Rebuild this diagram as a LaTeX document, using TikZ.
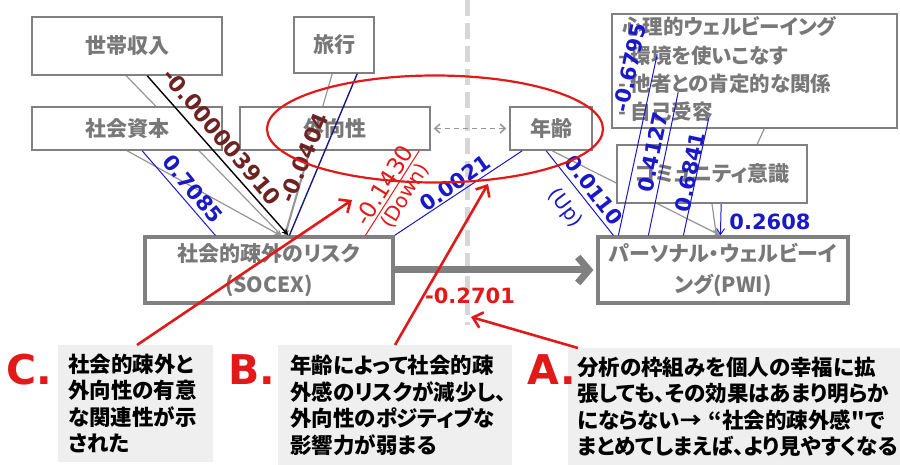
\documentclass[tikz,border=0pt]{standalone}
\usepackage{fontspec}
\usetikzlibrary{arrows.meta,backgrounds}
\newfontfamily\jp[RawFeature=+palt]{Noto Sans CJK JP}
\newfontfamily\numf{DejaVu Sans}
\definecolor{bx}{RGB}{128,128,128}
\definecolor{tg}{RGB}{120,120,120}
\definecolor{lg}{RGB}{150,150,150}
\definecolor{vg}{RGB}{215,215,215}
\definecolor{bl}{RGB}{25,25,200}
\definecolor{nv}{RGB}{25,25,130}
\definecolor{dr}{RGB}{110,35,35}
\definecolor{rd}{RGB}{225,25,25}
\definecolor{nb}{RGB}{239,239,239}
\tikzset{
  box/.style={draw=bx, line width=1.6pt, fill=white, inner sep=0pt, text=tg, align=center,
    font=\jp\bfseries\fontsize{21}{31}\selectfont},
  bigbox/.style={box, line width=3.2pt},
  gline/.style={draw=lg, line width=1.2pt, -{Stealth[length=6pt,width=5pt]}},
  glineplain/.style={draw=lg, line width=1.2pt},
  bline/.style={draw=bl, line width=1pt},
  nline/.style={draw=nv, line width=1.4pt},
  blkline/.style={draw=black, line width=1.4pt, -{Stealth[length=7pt,width=6pt]}},
  rline/.style={draw=rd, line width=1pt},
  vdash/.style={draw=vg, line width=5pt, dash pattern=on 16pt off 7pt},
  dashg/.style={draw=lg, line width=1.5pt, dash pattern=on 5pt off 4pt},
  fatarrow/.style={draw=bx, line width=7pt, -{Straight Barb[length=11pt,width=26pt]}},
  redarrow/.style={draw=rd, line width=2.6pt, -{Straight Barb[length=9pt,width=16pt]}},
  bnum/.style={font=\numf\bfseries\fontsize{21}{21}\selectfont, text=bl, inner sep=0pt},
  dnum/.style={font=\numf\bfseries\fontsize{22}{22}\selectfont, text=dr, inner sep=0pt},
  rnum/.style={font=\numf\fontsize{23}{23}\selectfont, text=rd, inner sep=0pt},
  note/.style={fill=nb, inner ysep=0pt, align=left, text=black, anchor=north west,
    font=\jp\bfseries\fontsize{21.5}{26.5}\selectfont},
  bigletter/.style={font=\numf\bfseries\fontsize{41}{41}\selectfont, text=rd, inner sep=0pt},
  ptext/.style={anchor=base west, inner sep=0pt, text=tg, font=\jp\bfseries\fontsize{20.5}{24}\selectfont}
}
\begin{document}
\begin{tikzpicture}[x=1pt,y=-1pt]
\useasboundingbox (0,0) rectangle (900,465);

% boxes
\node[box, minimum width=190pt, minimum height=58pt] (hh) at (127,46) {世帯収入};
\node[box, minimum width=80pt, minimum height=56pt] (tr) at (334,45) {旅行};
\node[box, minimum width=190pt, minimum height=43pt] (sc) at (127,128.5) {社会資本};
\node[box, minimum width=190pt, minimum height=43pt] (ex) at (335,128.5) {外向性};
\node[box, minimum width=82pt, minimum height=43pt] (age) at (551,128.5) {年齢};
\node[box, minimum width=285pt, minimum height=114pt] (psy) at (754.5,71) {};
\node[ptext] (p1) at (622,35) {心理的ウェルビーイング};
\node[ptext] (p2) at (618,64) {- 環境を使いこなす};
\node[ptext] (p3) at (618,92) {- 他者との肯定的な関係};
\node[ptext] (p4) at (618,120) {- 自己受容};
\node[box, minimum width=190pt, minimum height=58pt] (com) at (712,174) {コミュニティ意識};
\node[bigbox, minimum width=248pt, minimum height=66pt] (soc) at (269,270) {社会的疎外のリスク\\(SOCEX)};
\node[bigbox, minimum width=250pt, minimum height=66pt] (pwi) at (723,270) {パーソナル・ウェルビーイ\\ング(PWI)};

% background connectors
\begin{scope}[on background layer]
\fill[white] (0,0) rectangle (900,465);
\coordinate (vtop) at (467,0);
\coordinate (vbot) at (467,325);
\draw[vdash] (vtop) -- (vbot);
\draw[gline] ([xshift=95pt]hh.south west) -- ([xshift=138pt]soc.north west);
\draw[gline] ([xshift=96pt]sc.south west) -- ([xshift=137pt]soc.north west);
\draw[gline] ([xshift=39pt]tr.south west) -- ([xshift=142pt]soc.north west);
\draw[gline] ([xshift=70pt]ex.south west) -- ([xshift=141pt]soc.north west);
\draw[gline] ([xshift=43pt]age.south west) -- ([xshift=124pt]pwi.north west);
\draw[gline] (com.south) -- ([xshift=120pt]pwi.north west);
\draw[glineplain] ([xshift=153pt]psy.south west) -- ([xshift=141pt]com.north west);
\end{scope}

% coloured connectors
\draw[blkline] ([xshift=116pt]hh.south west) -- ([xshift=145pt]soc.north west);
\draw[bline] ([xshift=111pt]sc.south west) -- ([xshift=72pt]soc.north west);
\draw[nline] ([xshift=64pt]tr.south west) -- ([xshift=146pt]soc.north west);
\draw[rline] ([xshift=222pt]soc.north west) -- ([xshift=180pt]ex.south west);
\draw[bline] (soc.north east) -- ([xshift=13pt]age.south west);
\draw[bline] ([xshift=37pt]age.south west) -- ([xshift=17pt]pwi.north west);
\draw[bline] ([xshift=46pt,yshift=-41pt]psy.north west) -- ([xshift=22pt]pwi.north west);
\draw[bline] ([xshift=67pt,yshift=-79pt]psy.north west) -- ([xshift=52pt]pwi.north west);
\draw[bline] ([xshift=98pt,yshift=-103pt]psy.north west) -- ([xshift=87pt]pwi.north west);
\draw[bline, -{Straight Barb[length=6pt,width=8pt]}] ([xshift=105pt]com.south west) -- ([xshift=124pt]pwi.north west);
\draw[fatarrow] (soc.east) -- ([xshift=-3pt]pwi.west);
\draw[dashg, {Straight Barb[length=5pt,width=9pt]}-{Straight Barb[length=5pt,width=9pt]}] ([xshift=3pt]ex.east) -- ([xshift=-3pt]age.west);

% labels
\node[bnum, rotate=-50.6] (l1) at (193,189) {0.7085};
\node[dnum, rotate=-50] (l2) at (222,137) {-0.000003910};
\node[dnum, rotate=67.5] (l3) at (304,158) {-0.0404};
\node[rnum, rotate=58] (l4) at (384,185) {-0.1430};
\node[rnum, rotate=58, font=\numf\fontsize{20}{20}\selectfont] (l5) at (405,196) {(Down)};
\node[bnum, rotate=35] (l6) at (455,183) {0.0021};
\node[bnum, rotate=-52.6] (l7) at (594,190) {0.0110};
\node[bnum, rotate=-52.6, font=\numf\fontsize{20}{20}\selectfont] (l8) at (565,208) {(Up)};
\node[bnum, rotate=78] (l9) at (630,68) {-0.6795};
\node[bnum, rotate=78] (l10) at (653,152) {0.4127};
\node[bnum, rotate=78] (l11) at (690,172) {0.6841};
\node[bnum] (l12) at (770,222) {0.2608};
\node[bnum, text=rd] (l13) at (470,296) {-0.2701};

% ellipse
\draw[rd, line width=2.2pt] (435,129) ellipse [x radius=168pt, y radius=53.5pt];

% notes
\node[note, text width=135pt, inner xsep=10pt, minimum height=117pt] (cbox) at (58,345) {社会的疎外と\\外向性の有意\\な関連性が示\\された};
\node[note, text width=210pt, inner xsep=12pt, minimum height=120pt] (bbox) at (278,345) {年齢によって社会的疎\\外感のリスクが減少し、\\外向性のポジティブな\\影響力が弱まる};
\node[note, text width=314pt, inner xsep=9pt, minimum height=117pt] (abox) at (568,348) {分析の枠組みを個人の幸福に拡\\張しても、その効果はあまり明らか\\にならない→ “社会的疎外感"で\\まとめてしまえば、より見やすくなる};
\node[bigletter] (cl) at (29,370) {C.};
\node[bigletter] (bl) at (252,370) {B.};
\node[bigletter] (al) at (552,370) {A.};

% red pointers
\coordinate (ctip) at (352,200);
\coordinate (btip) at (488,184);
\coordinate (atip) at (471,317);
\draw[redarrow] ([xshift=79pt]cbox.north west) -- (ctip);
\draw[redarrow] ([xshift=117pt]bbox.north west) -- (btip);
\draw[redarrow] ([xshift=10pt]abox.north west) -- (atip);
\end{tikzpicture}
\end{document}
